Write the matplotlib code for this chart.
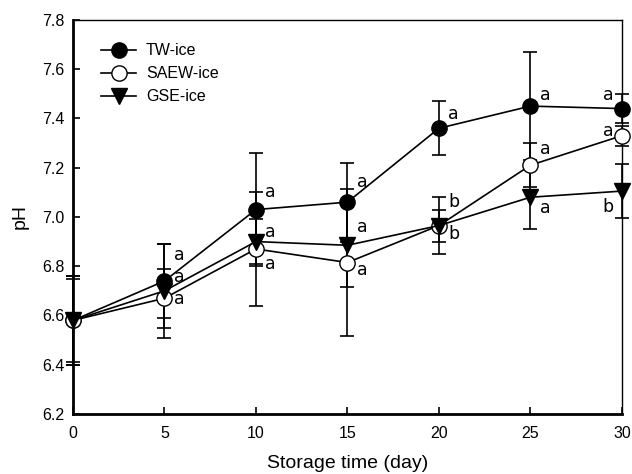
import matplotlib
matplotlib.use("Agg")
import matplotlib.pyplot as plt
from matplotlib.lines import Line2D

plt.rcParams['font.family'] = ['Liberation Sans', 'DejaVu Sans']

# storage days and pH means / errors
days = [0, 5, 10, 15, 20, 25, 30]

tw_ph = [6.58, 6.74, 7.03, 7.06, 7.36, 7.45, 7.44]
tw_err = [0.17, 0.15, 0.23, 0.16, 0.11, 0.22, 0.06]

saew_ph = [6.58, 6.67, 6.87, 6.815, 6.965, 7.21, 7.33]
saew_err = [0.18, 0.12, 0.23, 0.30, 0.065, 0.09, 0.04]

gse_ph = [6.58, 6.70, 6.90, 6.885, 6.965, 7.08, 7.105]
gse_err = [0.18, 0.19, 0.09, 0.17, 0.115, 0.13, 0.11]

# significance letters: (day, y, letter)
tw_letters = [(5, 6.845, 'a'), (10, 7.10, 'a'), (15, 7.14, 'a'), (20, 7.42, 'a'),
              (25, 7.495, 'a'), (30, 7.495, 'a')]
saew_letters = [(5, 6.667, 'a'), (10, 6.81, 'a'), (15, 6.785, 'a'), (20, 6.93, 'b'),
                (25, 7.275, 'a'), (30, 7.35, 'a')]
gse_letters = [(5, 6.756, 'a'), (10, 6.94, 'a'), (15, 6.96, 'a'), (20, 7.06, 'b'),
               (25, 7.035, 'a'), (30, 7.04, 'b')]

fig = plt.figure(figsize=(6.32, 4.74), dpi=100)
ax = fig.add_axes([0.1155, 0.1266, 0.8685, 0.8314])

series = [
    ("TW-ice", tw_ph, tw_err, dict(marker='o', mfc='black', mec='black')),
    ("SAEW-ice", saew_ph, saew_err, dict(marker='o', mfc='white', mec='black')),
    ("GSE-ice", gse_ph, gse_err, dict(marker='v', mfc='black', mec='black')),
]
handles = []
for name, y, e, mk in series:
    ax.errorbar(days, y, yerr=e, color='black', lw=1.2, elinewidth=1.2,
                capsize=5, capthick=1.2, markersize=11,
                clip_on=False, zorder=3, **mk)
    handles.append(Line2D([], [], color='black', lw=1.2, markersize=11,
                          label=name, **mk))

for lst in [tw_letters, saew_letters, gse_letters]:
    for d, yv, s in lst:
        dx = -0.75 if d == 30 else 0.8
        ax.text(d + dx, yv, s, fontsize=12.5, ha='center', va='center',
                family='DejaVu Sans')

ax.set_xlim(0, 30)
ax.set_ylim(6.2, 7.8)
ax.set_xticks(range(0, 31, 5))
ax.set_yticks([6.2, 6.4, 6.6, 6.8, 7.0, 7.2, 7.4, 7.6, 7.8])
ax.set_yticklabels(["%.1f" % v for v in ax.get_yticks()])
ax.tick_params(direction='in', length=5, width=1.2, labelsize=11.5)
ax.tick_params(axis='x', pad=9)
ax.tick_params(axis='y', pad=6)

ax.spines['left'].set_linewidth(2)
ax.spines['bottom'].set_linewidth(2)
ax.spines['top'].set_linewidth(1)
ax.spines['right'].set_linewidth(1)

ax.set_xlabel("Storage time (day)", fontsize=14, labelpad=10)
ax.set_ylabel("pH", fontsize=14, labelpad=10)

ax.legend(handles=handles, loc='upper left', frameon=False, fontsize=11.5,
          handlelength=2.2, borderaxespad=1.2, labelspacing=0.5,
          handletextpad=0.6, bbox_to_anchor=(0.005, 1.005))

fig.savefig("out.png", dpi=100)
